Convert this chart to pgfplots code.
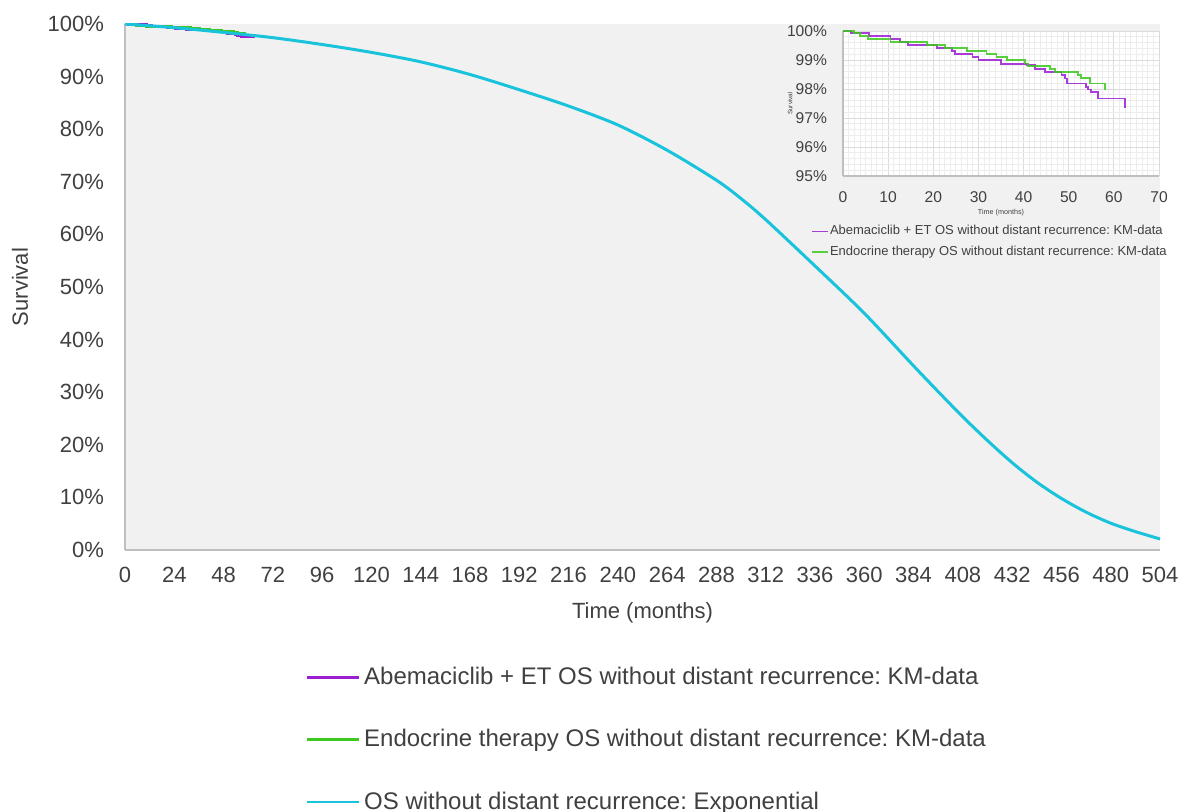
\documentclass[border=0pt]{standalone}
\usepackage{fontspec}
\setmainfont{Liberation Sans}
\usepackage{pgfplots}
\usepackage{pgfplotstable}
\pgfplotsset{compat=1.18}
\frenchspacing

\definecolor{abema}{RGB}{155,30,210}
\definecolor{endo}{RGB}{60,200,30}
\definecolor{expo}{RGB}{25,195,220}
\definecolor{txt}{RGB}{64,64,64}
\definecolor{plotbg}{RGB}{241,241,241}
\definecolor{axln}{RGB}{191,191,191}

% Kaplan-Meier step data (months, survival %)
\pgfplotstableread{
t s
0 100
1.8 99.92
5.7 99.84
10.5 99.71
12.7 99.61
14.4 99.53
20.8 99.40
24.2 99.32
24.8 99.22
28.7 99.11
30.0 98.99
35.0 98.87
40.7 98.82
42.5 98.68
44.7 98.58
48.4 98.48
49.2 98.36
49.7 98.19
53.8 98.08
54.3 97.98
55.0 97.90
56.5 97.67
62.4 97.36
}\abemaKM

\pgfplotstableread{
t s
0 100
2.5 99.92
3.8 99.83
5.5 99.71
10.5 99.61
18.6 99.53
22.6 99.42
27.4 99.30
31.8 99.21
34.0 99.10
36.4 99.00
40.3 98.88
41.0 98.79
45.8 98.70
46.9 98.59
52.0 98.48
52.8 98.39
54.7 98.19
58.0 97.98
}\endoKM

% Extrapolated OS curve
\pgfplotstableread{
t s
0 100
24 99.3
48 98.4
72 97.4
96 96.1
120 94.6
144 92.8
168 90.4
192 87.5
216 84.4
240 80.8
264 76.0
288 70.3
300 66.8
312 62.8
336 54.0
360 45.0
384 35.0
396 30.1
408 25.3
420 20.8
432 16.6
444 12.9
456 9.8
468 7.2
480 5.1
492 3.5
504 2.1
}\osfit

\begin{document}
\begin{tikzpicture}
\begin{axis}[
  name=main, at={(0,0)}, anchor=south west,
  scale only axis, width=517.5pt, height=263pt,
  xmin=0, xmax=504, ymin=0, ymax=100,
  xtick={0,24,...,504},
  xticklabels={0,24,48,72,96,120,144,168,192,216,240,264,288,312,336,360,384,408,432,456,480,504},
  ytick={0,10,...,100},
  yticklabels={0\%,10\%,20\%,30\%,40\%,50\%,60\%,70\%,80\%,90\%,100\%},
  axis lines*=left,
  axis line style={draw=axln, line width=1.2pt},
  major tick length=0pt,
  axis background/.style={fill=plotbg},
  tick label style={font=\fontsize{11}{13}\selectfont, text=txt},
  xticklabel style={yshift=-5pt},
  yticklabel style={xshift=-7pt},
  xlabel={Time (months)}, ylabel={Survival},
  label style={font=\fontsize{11}{13}\selectfont, text=txt},
  xlabel style={at={(axis description cs:0.5,0)}, anchor=center, yshift=-31.5pt},
  ylabel style={at={(axis description cs:-0.1014,0.5)}, anchor=center},
  legend style={at={(axis description cs:0.5,0)}, anchor=north, yshift=-54.3pt, xshift=2.5pt,
    draw=none, fill=none, font=\fontsize{12}{14}\selectfont, text=txt,
    row sep=17pt, nodes={inner xsep=1.8pt}},
  legend cell align=left,
  legend image code/.code={\draw[#1] (0pt,0pt) -- (26pt,0pt);},
]
\addplot[const plot, abema, line width=1.5pt] table[x=t, y=s] {\abemaKM};
\addlegendentry{Abemaciclib + ET OS without distant recurrence: KM-data}
\addplot[const plot, endo, line width=1.5pt] table[x=t, y=s] {\endoKM};
\addlegendentry{Endocrine therapy OS without distant recurrence: KM-data}
\addplot[smooth, expo, line width=1.5pt, legend image post style={line width=1pt}] table[x=t, y=s] {\osfit};
\addlegendentry{OS without distant recurrence: Exponential}
\end{axis}

% Zoomed view of the first 70 months
\begin{axis}[
  at={(359pt,187pt)}, anchor=south west,
  scale only axis, width=158pt, height=72.5pt,
  xmin=0, xmax=70, ymin=95, ymax=100,
  xtick={0,10,...,70},
  xticklabels={0,10,20,30,40,50,60,70},
  ytick={95,96,...,100},
  yticklabels={95\%,96\%,97\%,98\%,99\%,100\%},
  minor x tick num=7, minor y tick num=4,
  grid=both,
  major grid style={draw=black!14, line width=0.4pt},
  minor grid style={draw=black!7, line width=0.4pt},
  axis lines*=left,
  axis line style={draw=axln, line width=0.8pt},
  major tick length=0pt, minor tick length=0pt,
  axis background/.style={fill=white},
  tick label style={font=\fontsize{7.8}{9}\selectfont, text=txt},
  xticklabel style={yshift=-4.5pt},
  yticklabel style={xshift=-4.5pt},
  xlabel={Time (months)}, ylabel={Survival},
  xlabel style={font=\fontsize{3.6}{4}\selectfont, text=txt, at={(axis description cs:0.5,0)}, anchor=center, yshift=-18.5pt},
  ylabel style={font=\fontsize{3.2}{4}\selectfont, text=txt, at={(axis description cs:-0.1677,0.5)}, anchor=center},
  legend style={at={(axis description cs:0,0)}, anchor=north west, xshift=-19pt, yshift=-21.5pt,
    draw=none, fill=none, font=\fontsize{6.5}{7.5}\selectfont, text=txt,
    row sep=2pt, nodes={inner xsep=0.5pt, inner ysep=1pt}},
  legend cell align=left,
  legend image code/.code={\draw[#1, line width=0.8pt] (0pt,0pt) -- (8pt,0pt);},
]
\addplot[const plot, abema, line width=0.9pt, opacity=0.85] table[x=t, y=s] {\abemaKM};
\addlegendentry{Abemaciclib + ET OS without distant recurrence: KM-data}
\addplot[const plot, endo, line width=0.9pt, opacity=0.85] table[x=t, y=s] {\endoKM};
\addlegendentry{Endocrine therapy OS without distant recurrence: KM-data}
\end{axis}

\pgfresetboundingbox
\useasboundingbox (-62.5pt,-131pt) rectangle (530.5pt,275pt);
\end{tikzpicture}
\end{document}
